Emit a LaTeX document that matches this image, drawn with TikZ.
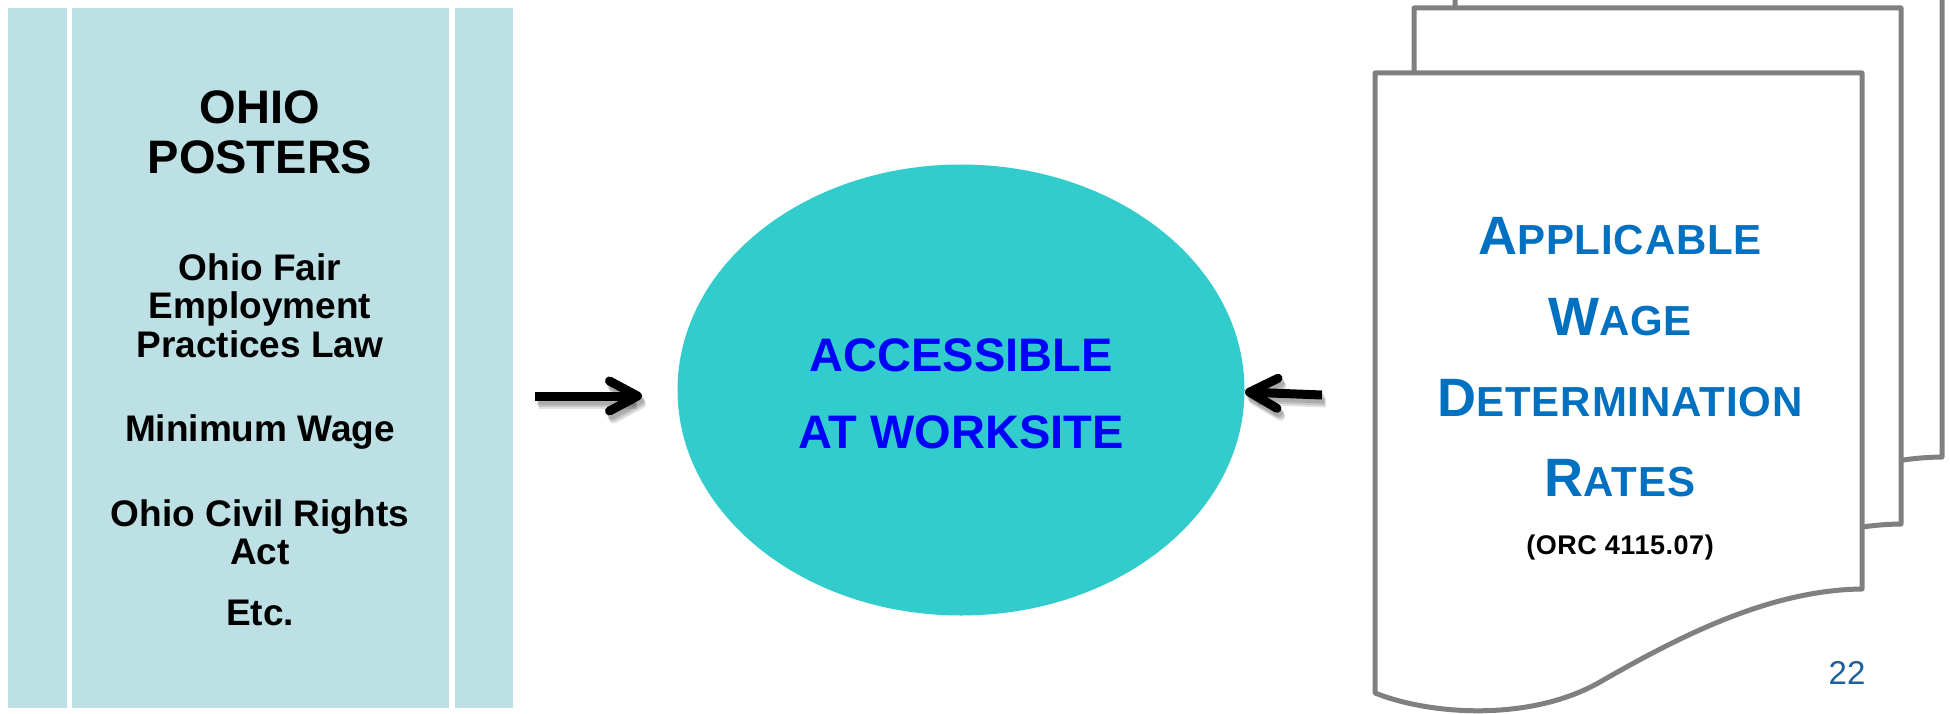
\documentclass[tikz,border=0pt]{standalone}
\usepackage{fontspec}
\setmainfont{Liberation Sans}
\usetikzlibrary{shapes.geometric,arrows.meta}
\definecolor{panel}{RGB}{188,224,228}
\definecolor{acccol}{RGB}{51,204,204}
\definecolor{ttl}{RGB}{0,0,255}
\definecolor{docblue}{RGB}{0,112,192}
\definecolor{pgcol}{RGB}{31,95,156}
\definecolor{docline}{RGB}{128,128,128}
\newfontfamily\widesans[LetterSpace=2]{Liberation Sans}
\newcommand\mysc[2]{{\fontsize{54pt}{54pt}\selectfont #1}{\fontsize{42pt}{42pt}\selectfont #2}}
\newcommand\docpath{(1375,73) -- (1862,73) -- (1862,589) .. controls (1770,590) and (1680,636) .. (1600,682) .. controls (1530,722) and (1430,715) .. (1375,693) -- cycle}
\begin{document}
\begin{tikzpicture}[x=1pt,y=-1pt,
 headtxt/.style={anchor=base,font=\fontsize{47pt}{50pt}\selectfont\bfseries},
 bodytxt/.style={anchor=base,font=\fontsize{37pt}{39pt}\selectfont\bfseries},
 acctxt/.style={anchor=base,text=ttl,font=\fontsize{47pt}{50pt}\selectfont\bfseries},
 doctxt/.style={anchor=base,text=docblue,font=\widesans\bfseries},
 docshape/.style={draw=docline,line width=5pt,fill=white,line join=round},
 bigarrow/.style={line width=9pt,-{Straight Barb[length=28pt,width=30pt,round]},line cap=butt},
 arrowshadow/.style={bigarrow,draw=black,opacity=0.12}
]
\useasboundingbox (0,0) rectangle (1950,714);
\clip (0,0) rectangle (1950,714);
\fill[white] (0,0) rectangle (1950,714);
% left panel
\fill[panel] (8,8) rectangle (67,708);
\fill[panel] (72,8) rectangle (449,708);
\fill[panel] (455,8) rectangle (513,708);
\node[headtxt] (h1) at (260,123.6) {OHIO};
\node[headtxt] (h2) at (260,174) {POSTERS};
\node[bodytxt] (b1) at (260,280) {Ohio Fair};
\node[bodytxt] (b2) at (260,318) {Employment};
\node[bodytxt] (b3) at (260,357) {Practices Law};
\node[bodytxt] (b4) at (260,441.6) {Minimum Wage};
\node[bodytxt] (b5) at (260,526) {Ohio Civil Rights};
\node[bodytxt] (b6) at (260,564) {Act};
\node[bodytxt] (b7) at (260,625) {Etc.};
% ellipse
\node[ellipse,fill=acccol,minimum width=567pt,minimum height=451pt,inner sep=0pt] (acc) at (961,390) {};
\node[acctxt] (a1) at (961,371) {ACCESSIBLE};
\node[acctxt] (a2) at (961,448) {AT WORKSITE};
% documents
\draw[docshape,shift={(80,-132)}] \docpath;
\draw[docshape,shift={(39,-65)}] \docpath;
\draw[docshape] \docpath;
\node[doctxt] (d1) at (1620,254) {\mysc{A}{PPLICABLE}};
\node[doctxt] (d2) at (1620,335) {\mysc{W}{AGE}};
\node[doctxt] (d3) at (1620,416.5) {\mysc{D}{ETERMINATION}};
\node[doctxt] (d4) at (1620,496.6) {\mysc{R}{ATES}};
\node[anchor=base,font=\widesans\fontsize{27pt}{27pt}\selectfont\bfseries] (orc) at (1620,554) {(ORC 4115.07)};
\node[anchor=base,text=pgcol,font=\fontsize{33pt}{33pt}\selectfont] (pg) at (1847,684) {22};
% arrows
\coordinate (la1) at (535,396);
\coordinate (la2) at (642,396);
\coordinate (ra1) at (1322,395);
\coordinate (ra2) at (1245,392);
\foreach \s in {(2,4),(3,6),(4,8)}{
  \draw[arrowshadow] ([shift={\s}]la1) -- ([shift={\s}]la2);
  \draw[arrowshadow] ([shift={\s}]ra1) -- ([shift={\s}]ra2);
}
\draw[bigarrow] (la1) -- (la2);
\draw[bigarrow] (ra1) -- (ra2);
\end{tikzpicture}
\end{document}
